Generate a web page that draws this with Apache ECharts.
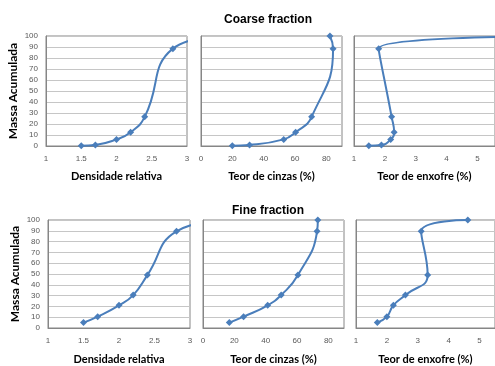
<!DOCTYPE html>
<html>
<head>
<meta charset="utf-8">
<script src="https://cdn.jsdelivr.net/npm/echarts@6/dist/echarts.min.js"></script>
<style>
  html, body { margin: 0; padding: 0; background: #fff; }
  #chart { width: 495px; height: 366px; }
</style>
</head>
<body>
<div id="chart"></div>
<script>
// cumulative mass (%) per panel
const coarseMass = [0.3, 1, 6, 12.5, 26.5, 88.5, 100];
const fineMass = [5, 10.5, 21, 30.5, 49, 89.5, 100];

// x values per panel
const coarseDensity = [1.5, 1.7, 2.0, 2.2, 2.4, 2.8, 3.5];
const coarseAsh = [20, 31, 52.8, 60.4, 70.6, 84.3, 82.3];
const coarseSulfur = [1.48, 1.89, 2.19, 2.3, 2.22, 1.8, 8];

const fineDensity = [1.5, 1.7, 2.0, 2.2, 2.4, 2.81, 3.5];
const fineAsh = [16.8, 25.9, 41.3, 49.9, 60.6, 72.8, 73.3];
const fineSulfur = [1.69, 2.0, 2.21, 2.6, 3.32, 3.11, 4.62];

const titles = ["Coarse fraction", "Fine fraction"];
const xNames = ["Densidade relativa", "Teor de cinzas (%)", "Teor de enxofre (%)"];
const yName = "Massa Acumulada";

const blue = "#4a7ebb";
// right panels run past the picture edge, as in the source
const panels = [
  { x: coarseDensity, y: coarseMass, grid: { left: 46, top: 36, width: 141, height: 110 }, min: 1, max: 3, step: 0.5, name: 0, yLab: true },
  { x: coarseAsh, y: coarseMass, grid: { left: 201, top: 36, width: 141, height: 110 }, min: 0, max: 90, step: 20, name: 1 },
  { x: coarseSulfur, y: coarseMass, grid: { left: 354, top: 36, width: 142, height: 110 }, min: 1, max: 5.57, step: 1, name: 2 },
  { x: fineDensity, y: fineMass, grid: { left: 48, top: 220, width: 142, height: 109 }, min: 1, max: 3, step: 0.5, name: 0, yLab: true },
  { x: fineAsh, y: fineMass, grid: { left: 203, top: 220, width: 141, height: 109 }, min: 0, max: 90, step: 20, name: 1 },
  { x: fineSulfur, y: fineMass, grid: { left: 356, top: 220, width: 140, height: 109 }, min: 1, max: 5.5, step: 1, name: 2 }
];

const myChart = echarts.init(document.getElementById("chart"));
myChart.setOption({
  animation: false,
  title: [
    { text: titles[0], left: 263, top: 9, textAlign: "center",
      textStyle: { fontFamily: "Liberation Sans", fontSize: 12, fontWeight: "bold", color: "#000" } },
    { text: titles[1], left: 263, top: 200, textAlign: "center",
      textStyle: { fontFamily: "Liberation Sans", fontSize: 12, fontWeight: "bold", color: "#000" } }
  ],
  grid: panels.map(p => Object.assign({ show: true, borderColor: "#868686", borderWidth: 1 }, p.grid)),
  xAxis: panels.map((p, i) => ({
    type: "value",
    gridIndex: i,
    min: p.min,
    max: p.max,
    interval: p.step,
    name: xNames[p.name],
    nameLocation: "middle",
    nameGap: i < 3 ? 25 : 26,
    nameTextStyle: { fontFamily: "Lato", fontSize: 11, fontWeight: "bold", color: "#000" },
    axisLine: { show: true, lineStyle: { color: "#868686" } },
    axisTick: { show: false },
    splitLine: { show: false },
    axisLabel: {
      fontFamily: "Liberation Sans", fontSize: 8, color: "#595959", margin: 9,
      showMaxLabel: p.name === 0
    }
  })),
  yAxis: panels.map((p, i) => ({
    type: "value",
    gridIndex: i,
    min: 0,
    max: 100,
    interval: 10,
    name: p.yLab ? yName : "",
    nameLocation: "middle",
    nameRotate: 90,
    nameGap: 27,
    nameTextStyle: { fontFamily: "Lato", fontSize: 12, fontWeight: "bold", color: "#000" },
    axisLine: { show: true, lineStyle: { color: "#868686" } },
    axisTick: { show: false },
    splitLine: { show: true, lineStyle: { color: "#c6c6c6", width: 1 } },
    axisLabel: { show: !!p.yLab, fontFamily: "Liberation Sans", fontSize: 8, color: "#595959", margin: 8 }
  })),
  series: panels.map((p, i) => ({
    type: "line",
    xAxisIndex: i,
    yAxisIndex: i,
    smooth: 0.5,
    clip: true,
    symbol: "diamond",
    symbolSize: 7,
    lineStyle: { color: blue, width: 2 },
    itemStyle: { color: blue },
    data: p.x.map((v, k) => [v, p.y[k]])
  }))
});
</script>
</body>
</html>
